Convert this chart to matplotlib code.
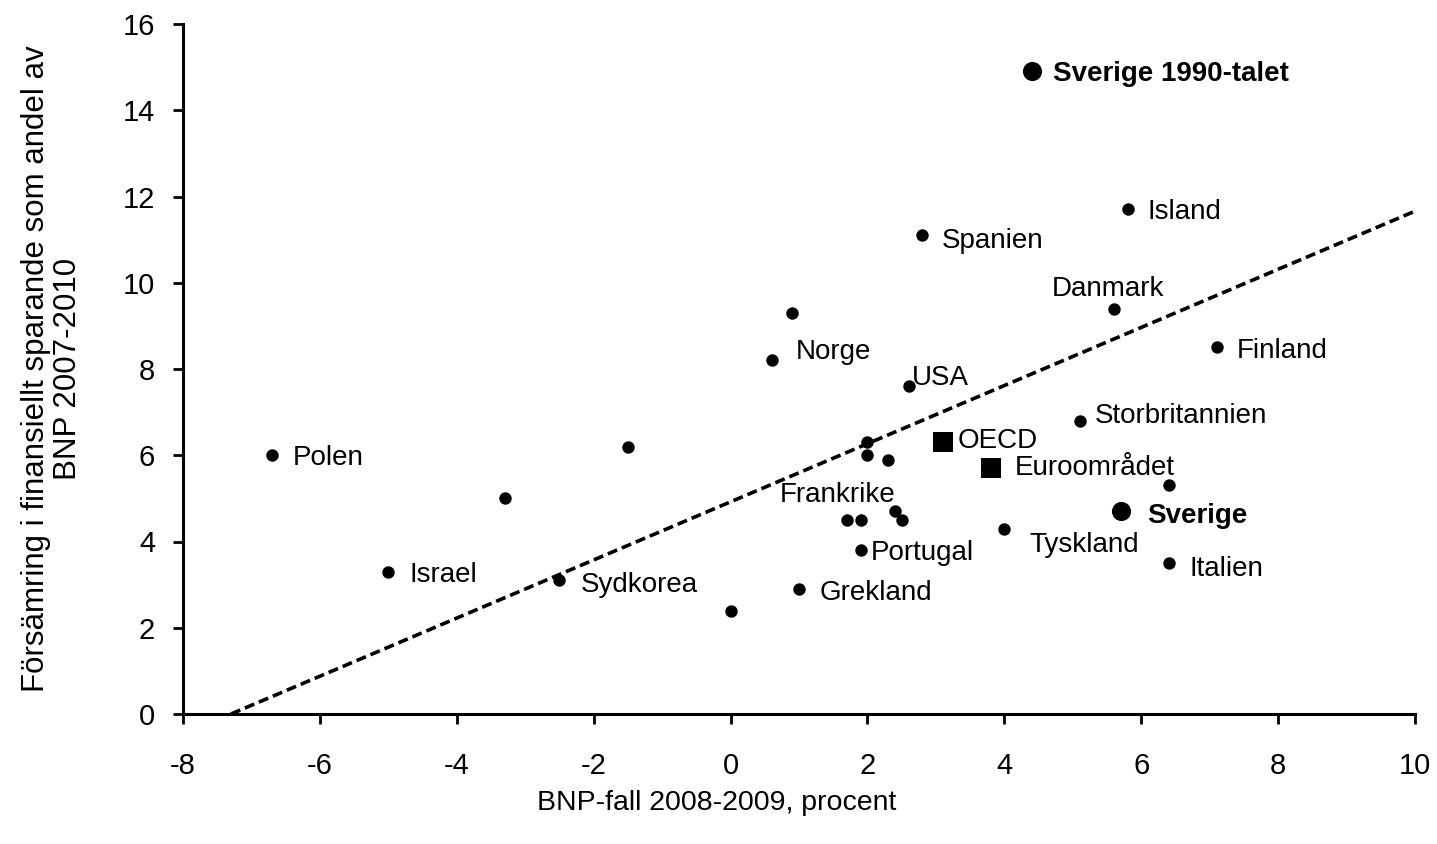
import matplotlib.pyplot as plt
import numpy as np

plt.rcParams['font.family'] = ['Liberation Sans', 'DejaVu Sans']
plt.rcParams['axes.unicode_minus'] = False

# vanliga länder (små punkter), tomt namn = ingen etikett
names = ['Polen', '', 'Israel', 'Sydkorea', '', '', 'Grekland', 'Norge', '',
         'Frankrike', '', 'Portugal', '', '', '', '', '', 'USA', 'Spanien',
         'Tyskland', 'Storbritannien', 'Danmark', 'Island', '', 'Italien', 'Finland']
bnp_fall = [-6.7, -3.3, -5.0, -2.5, -1.5, 0.0, 1.0, 0.6, 0.9,
            1.7, 1.9, 1.9, 2.0, 2.0, 2.3, 2.4, 2.5, 2.6, 2.8,
            4.0, 5.1, 5.6, 5.8, 6.4, 6.4, 7.1]
sparande = [6.0, 5.0, 3.3, 3.1, 6.2, 2.4, 2.9, 8.2, 9.3,
            4.5, 4.5, 3.8, 6.3, 6.0, 5.9, 4.7, 4.5, 7.6, 11.1,
            4.3, 6.8, 9.4, 11.7, 5.3, 3.5, 8.5]

# aggregat (kvadrater)
agg_names = ['OECD', 'Euroområdet']
agg_bnp = [3.1, 3.8]
agg_spar = [6.3, 5.7]

# Sverige (stora punkter)
swe_names = ['Sverige', 'Sverige 1990-talet']
swe_bnp = [5.7, 4.4]
swe_spar = [4.7, 14.9]

# trendlinje
trend_slope = 0.674
trend_intercept = 4.92

x_ticks = list(range(-8, 11, 2))
y_ticks = list(range(0, 17, 2))

# etikettplacering: (dx, dy) i pixlar, ha
placering = {
    'Sverige 1990-talet': (21, 0, 'left'),
    'Island': (20, 0, 'left'),
    'Spanien': (20, -3, 'left'),
    'Danmark': (-6, 23, 'center'),
    'Finland': (20, -1, 'left'),
    'Norge': (24, 11, 'left'),
    'USA': (3, 11, 'left'),
    'Storbritannien': (15, 8, 'left'),
    'OECD': (15, 4, 'left'),
    'Euroområdet': (24, 3, 'left'),
    'Sverige': (26, -2, 'left'),
    'Tyskland': (25, -13, 'left'),
    'Italien': (21, -3, 'left'),
    'Frankrike': (-9, 28, 'center'),
    'Portugal': (10, 0, 'left'),
    'Grekland': (21, -1, 'left'),
    'Polen': (21, 0, 'left'),
    'Israel': (21, 0, 'left'),
    'Sydkorea': (21, -2, 'left'),
}
fet = ['Sverige', 'Sverige 1990-talet']

fig = plt.figure(figsize=(14.37, 8.44), dpi=100)
ax = fig.add_axes([183/1437, 130/844, 1232/1437, 690/844])

# trendlinje
x_start = -trend_intercept / trend_slope
xs = np.array([x_start, 10])
ax.plot(xs, trend_slope*xs + trend_intercept, color='black', lw=2.6,
        linestyle=(0, (2.8, 1.4)), zorder=2)

ax.scatter(bnp_fall, sparande, s=80, color='black', zorder=3, linewidths=0)
ax.scatter(agg_bnp, agg_spar, s=200, marker='s', color='black', zorder=3, linewidths=0)
ax.scatter(swe_bnp, swe_spar, s=190, color='black', zorder=3, linewidths=0)

alla = list(zip(names, bnp_fall, sparande)) + list(zip(agg_names, agg_bnp, agg_spar)) \
    + list(zip(swe_names, swe_bnp, swe_spar))
for n, x, y in alla:
    if n == '':
        continue
    dx, dy, ha = placering[n]
    ax.annotate(n, (x, y), xytext=(dx, dy - 3), textcoords='offset pixels',
                ha=ha, va='center', fontsize=20,
                fontweight='bold' if n in fet else 'normal')

ax.set_xlim(-8, 10)
ax.set_ylim(0, 16)
ax.set_xticks(x_ticks)
ax.set_yticks(y_ticks)
ax.spines['top'].set_visible(False)
ax.spines['right'].set_visible(False)
for sp in ['left', 'bottom']:
    ax.spines[sp].set_linewidth(2.2)
ax.tick_params(axis='both', direction='out', length=7, width=2, labelsize=21)
ax.tick_params(axis='x', pad=20)
ax.tick_params(axis='y', pad=13)

fig.text(52/1437, 1 - 369/844,
         'Försämring i finansiellt sparande som andel av\nBNP 2007-2010',
         rotation=90, ha='center', va='center', multialignment='center',
         fontsize=22.5, linespacing=1.05)
fig.text(717/1437, 1 - 803/844, 'BNP-fall 2008-2009, procent',
         ha='center', va='center', fontsize=20.5)

fig.savefig('out.png', dpi=100)
